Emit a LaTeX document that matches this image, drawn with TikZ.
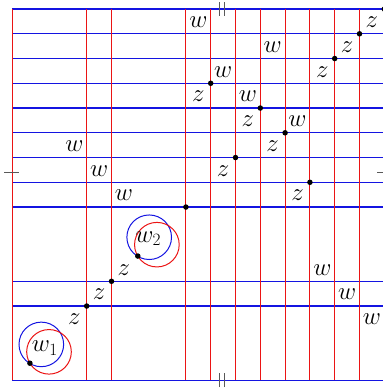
\documentclass[tikz,border=0pt]{standalone}
\usetikzlibrary{calc}
\definecolor{gridred}{RGB}{235,20,20}
\definecolor{gridblue}{RGB}{20,20,225}
\tikzset{
  vline/.style={draw=gridred, line width=1.1pt},
  hline/.style={draw=gridblue, line width=1.1pt},
  lab/.style={inner sep=0pt, font=\fontsize{25}{30}\selectfont},
  dotpt/.style={circle, fill=black, inner sep=0pt, minimum size=5.5pt},
  tickmark/.style={draw=black!65, line width=1.6pt},
  bcirc/.style={draw=gridblue, line width=1pt},
  rcirc/.style={draw=gridred, line width=1pt},
}
\begin{document}
\begin{tikzpicture}
\useasboundingbox (0,0) rectangle (382pt,390pt);
\begin{scope}[shift={(12.3pt,9.7pt)}, x=24.8pt, y=24.75pt]
  % horizontal (blue) lines
  \path[hline] (0,0) -- (15,0) (0,3) -- (15,3) (0,4) -- (15,4) (0,7) -- (15,7)
    (0,8) -- (15,8) (0,9) -- (15,9) (0,10) -- (15,10) (0,11) -- (15,11)
    (0,12) -- (15,12) (0,13) -- (15,13) (0,14) -- (15,14) (0,15) -- (15,15);
  % vertical (red) lines
  \path[vline] (0,0) -- (0,15) (3,0) -- (3,15) (4,0) -- (4,15) (7,0) -- (7,15)
    (8,0) -- (8,15) (9,0) -- (9,15) (10,0) -- (10,15) (11,0) -- (11,15)
    (12,0) -- (12,15) (13,0) -- (13,15) (14,0) -- (14,15) (15,0) -- (15,15);
  % identification ticks
  \path[tickmark] (8.36,14.72) -- (8.36,15.28) (8.55,14.72) -- (8.55,15.28);
  \path[tickmark] (8.36,-0.28) -- (8.36,0.28) (8.55,-0.28) -- (8.55,0.28);
  \path[tickmark] (-0.32,8.39) -- (0.25,8.39);
  \path[tickmark] (14.72,8.39) -- (15.28,8.39);
  % circles around w1 and w2
  \coordinate (c1) at (0.71,0.69);
  \coordinate (c2) at (5.06,5.02);
  \path[bcirc] ($(c1)+(0.46,0.76)$) circle[radius=0.9];
  \path[rcirc] ($(c1)+(0.77,0.46)$) circle[radius=0.9];
  \path[bcirc] ($(c2)+(0.46,0.76)$) circle[radius=0.9];
  \path[rcirc] ($(c2)+(0.77,0.46)$) circle[radius=0.9];
  % dots
  \node[dotpt] (p1) at (c1) {};
  \node[dotpt] (p2) at (c2) {};
  \foreach \a/\b [count=\k from 3] in {3/3,4/4,7/7,8/12,9/9,10/11,11/10,12/8,13/13,14/14,15/15}
    \node[dotpt] (p\k) at (\a,\b) {};
  % labels
  \node[lab, anchor=base west] (lw1) at (0.78,1.156) {$w_1$};
  \node[lab, anchor=base west] (lw2) at (4.95,5.58) {$w_2$};
  \foreach \a/\b [count=\k] in {2.5/9.47,3.5/8.47,4.5/7.47,7.5/14.47,8.5/12.47,9.5/11.47,10.5/13.47,11.5/10.47,12.5/4.47,13.5/3.47,14.5/2.47}
    \node[lab] (w\k) at (\a,\b) {$w$};
  \foreach \a/\b [count=\k] in {2.5/2.47,3.5/3.47,4.5/4.47,7.5/11.47,8.5/8.47,9.5/10.47,10.5/9.47,11.5/7.47,12.5/12.47,13.5/13.47,14.5/14.47}
    \node[lab] (z\k) at (\a,\b) {$z$};
\end{scope}
\end{tikzpicture}
\end{document}
